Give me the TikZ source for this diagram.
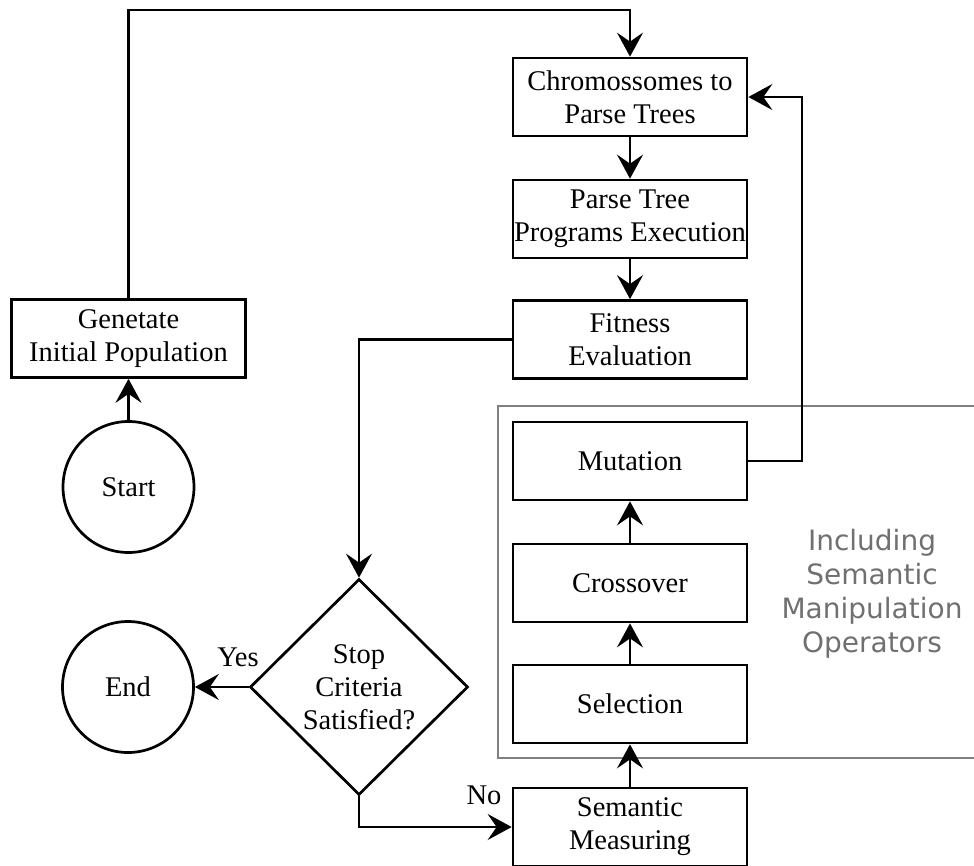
\documentclass[tikz,border=0pt]{standalone}
\usepackage{fontspec}
\setmainfont{Liberation Serif}
\newfontfamily\notefont{DejaVu Sans}
\usetikzlibrary{arrows.meta,shapes.geometric}
\definecolor{framegray}{HTML}{808080}
\definecolor{notegray}{HTML}{707070}
\begin{document}
\begin{tikzpicture}[x=1pt,y=-1pt,
  every node/.style={font=\fontsize{28.5}{33}\selectfont, align=center, inner sep=0pt},
  stepbox/.style={draw, line width=2.7pt, minimum width=234pt, minimum height=78pt},
  terminal/.style={draw, circle, line width=2.7pt, minimum size=131pt},
  decision/.style={draw, diamond, line width=2.7pt, shape aspect=1, minimum width=218pt, minimum height=216pt},
  link/.style={line width=2.7pt},
  arr/.style={link, -{Stealth[length=24pt,width=26pt,inset=9pt]}},
  lbl/.style={font=\fontsize{28.5}{33}\selectfont}]
\useasboundingbox (0,0) rectangle (974,865);

% process steps
\node[stepbox] (chrom) at (630,97) {Chromossomes to\\Parse Trees};
\node[stepbox] (parse) at (630,219) {Parse Tree\\Programs Execution};
\node[stepbox] (fit)   at (630,339.5) {Fitness\\Evaluation};
\node[stepbox] (mut)   at (630,461) {Mutation};
\node[stepbox] (cross) at (630,583) {Crossover};
\node[stepbox] (sel)   at (630,704) {Selection};
\node[stepbox] (sem)   at (630,827) {Semantic\\Measuring};
\node[stepbox] (gen)   at (128.5,338.5) {Genetate\\Initial Population};

% start / end and the stop test
\node[terminal] (start) at (128.5,487) {Start};
\node[terminal] (end)   at (128,687) {End};
\node[decision] (stop)  at (359,687) {Stop\\Criteria\\Satisfied?};

% frame around the variation operators
\draw[framegray, line width=2.2pt] (498,406) rectangle (980,758);
\node[font=\notefont\fontsize{28}{34}\selectfont, text=notegray] (ops) at (872,594)
  {Including\\Semantic\\Manipulation\\Operators};

% routing points
\coordinate (topline) at (0,10);
\coordinate (rightline) at (802,0);

% connectors
\draw[arr] (start.north) -- (gen.south);
\draw[arr] (gen.north) -- (gen.north |- topline) -| (chrom.north);
\draw[arr] (chrom) -- (parse);
\draw[arr] (parse) -- (fit);
\draw[arr] (fit.west) -| (stop.north);
\draw[arr] (stop.west) -- (end.east);
\node[lbl] (yes) at (238,657) {Yes};
\draw[arr] (stop.south) |- (sem.west);
\node[lbl] (no) at (484,795) {No};
\draw[arr] (sem) -- (sel);
\draw[arr] (sel) -- (cross);
\draw[arr] (cross) -- (mut);
\draw[arr] (mut.east) -- (mut.east -| rightline) |- (chrom.east);
\end{tikzpicture}
\end{document}
